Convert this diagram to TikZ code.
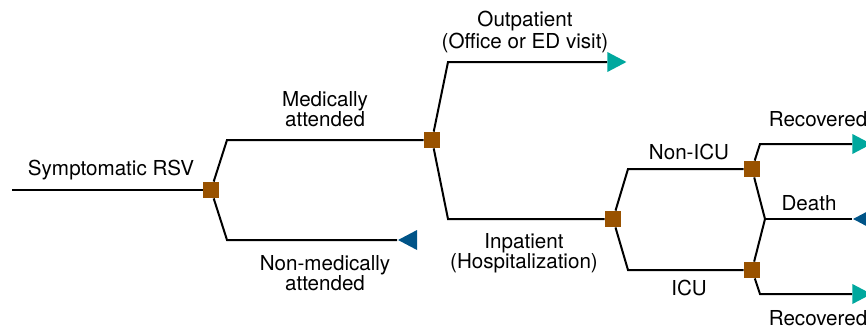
\documentclass[tikz,border=0pt]{standalone}
\usepackage{fontspec}
\setmainfont{TeX Gyre Heros}
\usetikzlibrary{shapes.geometric}

\definecolor{decbrown}{RGB}{153,82,0}
\definecolor{endteal}{RGB}{0,168,158}
\definecolor{endblue}{RGB}{0,84,136}

\tikzset{
  branch/.style={line width=1pt, line join=miter},
  chance/.style={rectangle, fill=decbrown, minimum size=8pt, inner sep=0pt},
  tright/.style={isosceles triangle, isosceles triangle stretches, fill=endteal,
    minimum width=10pt, minimum height=9.5pt, inner sep=0pt, anchor=lower side},
  tleft/.style={isosceles triangle, isosceles triangle stretches, fill=endblue,
    minimum width=10pt, minimum height=9.5pt, inner sep=0pt, shape border rotate=180, anchor=apex},
  lbl/.style={align=center, inner sep=0pt, font=\fontsize{10.3}{9.9}\selectfont}
}

\begin{document}
\begin{tikzpicture}[x=0.5pt, y=-0.5pt]
  \useasboundingbox (0,0) rectangle (866,327);

  % decision squares
  \node[chance] (root) at (211,190) {};
  \node[chance] (med) at (432,140) {};
  \node[chance] (inpat) at (613,219) {};
  \node[chance] (nonicu) at (752,169) {};
  \node[chance] (icu) at (752,270) {};

  % end triangles
  \node[tright] (outend) at (607,62) {};
  \node[tleft] (nmend) at (397,240) {};
  \node[tright] (recA) at (852,144) {};
  \node[tleft] (death) at (852,219) {};
  \node[tright] (recB) at (852,294) {};

  % bends
  \coordinate (start) at (12,190);
  \coordinate (kMed) at (227,140);
  \coordinate (kNm) at (227,240);
  \coordinate (kOut) at (448,62);
  \coordinate (kIn) at (448,219);
  \coordinate (kNon) at (628,169);
  \coordinate (kIcu) at (628,270);
  \coordinate (kRecA) at (760,144);
  \coordinate (join) at (765,219);
  \coordinate (kRecB) at (760,294);

  \draw[branch] (start) -- (root);
  \draw[branch] (root) -- (kMed) -- (med);
  \draw[branch] (root) -- (kNm) -- (nmend.apex);
  \draw[branch] (med) -- (kOut) -- (outend.lower side);
  \draw[branch] (med) -- (kIn) -- (inpat);
  \draw[branch] (inpat) -- (kNon) -- (nonicu);
  \draw[branch] (inpat) -- (kIcu) -- (icu);
  \draw[branch] (nonicu) -- (kRecA) -- (recA.lower side);
  \draw[branch] (nonicu) -- (join);
  \draw[branch] (icu) -- (join);
  \draw[branch] (join) -- (death.apex);
  \draw[branch] (icu) -- (kRecB) -- (recB.lower side);

  % labels
  \node[lbl] (tSym) at (111,170) {Symptomatic RSV};
  \node[lbl] (tMed) at (325,109) {Medically\\attended};
  \node[lbl] (tNm) at (325,273) {Non-medically\\attended};
  \node[lbl] (tOut) at (525,32) {Outpatient\\(Office or ED visit)};
  \node[lbl] (tIn) at (524,253) {Inpatient\\(Hospitalization)};
  \node[lbl] (tNon) at (689,152) {Non-ICU};
  \node[lbl] (tIcu) at (689,288) {ICU};
  \node[lbl] (tRecA) at (818,119) {Recovered};
  \node[lbl] (tDeath) at (809,203) {Death};
  \node[lbl] (tRecB) at (818,318) {Recovered};
\end{tikzpicture}
\end{document}
